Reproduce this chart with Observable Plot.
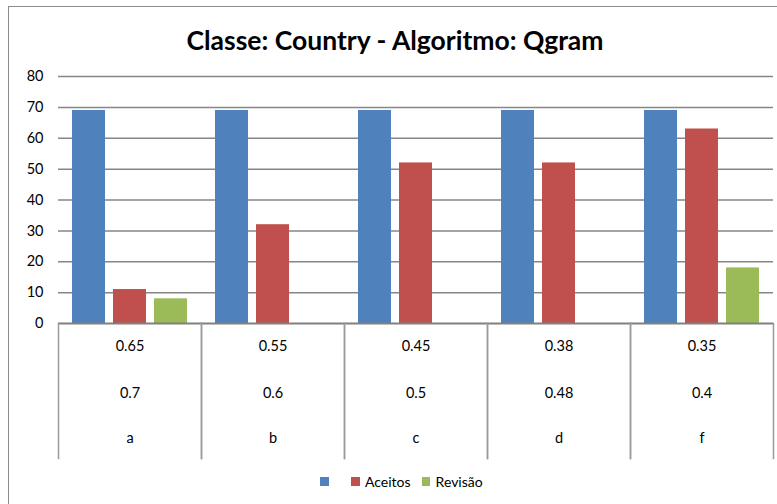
<!DOCTYPE html>
<html>
<head>
<meta charset="utf-8">
<script src="https://cdn.jsdelivr.net/npm/d3@7"></script>
<script src="https://cdn.jsdelivr.net/npm/@observablehq/plot@0.6"></script>
<style>
  html, body { margin: 0; padding: 0; background: #fff; }
  #chart { position: relative; width: 777px; height: 504px; overflow: hidden; font-family: Lato, "Open Sans", sans-serif; }
  #border { position: absolute; left: 8px; top: 6px; width: 800px; height: 520px; border-left: 1.5px solid #8c8c8c; border-top: 1.5px solid #8c8c8c; }
  #title { position: absolute; left: 0; width: 790px; top: 24px; line-height: 32px; text-align: center; font-weight: bold; font-size: 26.5px; color: #000; }
  #plot { position: absolute; left: 0; top: 0; }
  #legend { position: absolute; left: 320px; top: 473px; height: 17px; display: flex; align-items: center; font-size: 14px; line-height: 17px; color: #000; }
  .sw { display: inline-block; width: 8.5px; height: 8.5px; margin-right: 5.5px; }
  .item { display: flex; align-items: center; }
</style>
</head>
<body>
<div id="chart">
  <div id="border"></div>
  <div id="plot"></div>
  <div id="title"></div>
  <div id="legend"></div>
</div>
<script>
const titleText = "Classe: Country - Algoritmo: Qgram";
const categories = ["a", "b", "c", "d", "f"];
const row1Labels = ["0.65", "0.55", "0.45", "0.38", "0.35"];
const row2Labels = ["0.7", "0.6", "0.5", "0.48", "0.4"];
const seriesKeys = ["s1", "Aceitos", "Revisão"];
const seriesLabels = ["", "Aceitos", "Revisão"];
const seriesColors = ["#4F81BD", "#C0504D", "#9BBB59"];
const values1 = [69, 69, 69, 69, 69];
const valuesAceitos = [11, 32, 52, 52, 63];
const valuesRevisao = [8, 0, 0, 0, 18];
const yTicks = [0, 10, 20, 30, 40, 50, 60, 70, 80];

document.getElementById("title").textContent = titleText;

const seriesValues = [values1, valuesAceitos, valuesRevisao];
const bars = [];
categories.forEach((c, i) => {
  seriesKeys.forEach((s, j) => {
    bars.push({cat: c, series: s, value: seriesValues[j][i]});
  });
});
const rows = categories.map((c, i) => ({cat: c, r1: row1Labels[i], r2: row2Labels[i]}));

const plot = Plot.plot({
  width: 777,
  height: 504,
  marginTop: 76,
  marginBottom: 181,
  marginLeft: 58,
  marginRight: 4,
  style: {fontFamily: "Lato, 'Open Sans', sans-serif", fontSize: "14px", color: "#000", background: "transparent", overflow: "visible"},
  fx: {domain: categories, padding: 0, axis: null},
  x: {domain: seriesKeys, paddingInner: 0.19, paddingOuter: 0.3, axis: null},
  y: {domain: [0, 80], axis: null},
  color: {domain: seriesKeys, range: seriesColors},
  marks: [
    Plot.ruleY(yTicks.filter(d => d > 0), {stroke: "#868686", strokeWidth: 1.5, strokeOpacity: 1}),
    Plot.barY(bars.filter(d => d.value > 0), {fx: "cat", x: "series", y: "value", fill: "series"}),
    Plot.ruleY([0], {stroke: "#808080", strokeWidth: 2}),
    Plot.frame({anchor: "left", stroke: "#9a9a9a", strokeWidth: 1.5, strokeOpacity: 1, insetTop: 247, insetBottom: -135}),
    Plot.frame({anchor: "right", stroke: "#9a9a9a", strokeWidth: 1.5, strokeOpacity: 1, insetTop: 247, insetBottom: -135}),
    Plot.axisY(yTicks, {label: null, tickSize: 0, tickPadding: 15, fontSize: 14.5, fill: "#000"}),
    Plot.text(rows, {fx: "cat", text: "r1", frameAnchor: "bottom", dy: 27, fontSize: 14.5, fill: "#000"}),
    Plot.text(rows, {fx: "cat", text: "r2", frameAnchor: "bottom", dy: 74, fontSize: 14.5, fill: "#000"}),
    Plot.text(rows, {fx: "cat", text: "cat", frameAnchor: "bottom", dy: 119, fontSize: 14.5, fill: "#000"})
  ]
});
document.getElementById("plot").appendChild(plot);

const legend = document.getElementById("legend");
seriesKeys.forEach((s, j) => {
  const item = document.createElement("span");
  item.className = "item";
  item.style.marginRight = j === 0 ? "17px" : "11px";
  const sw = document.createElement("span");
  sw.className = "sw";
  sw.style.background = seriesColors[j];
  item.appendChild(sw);
  if (seriesLabels[j]) {
    const t = document.createElement("span");
    t.textContent = seriesLabels[j];
    item.appendChild(t);
  }
  legend.appendChild(item);
});
</script>
</body>
</html>
